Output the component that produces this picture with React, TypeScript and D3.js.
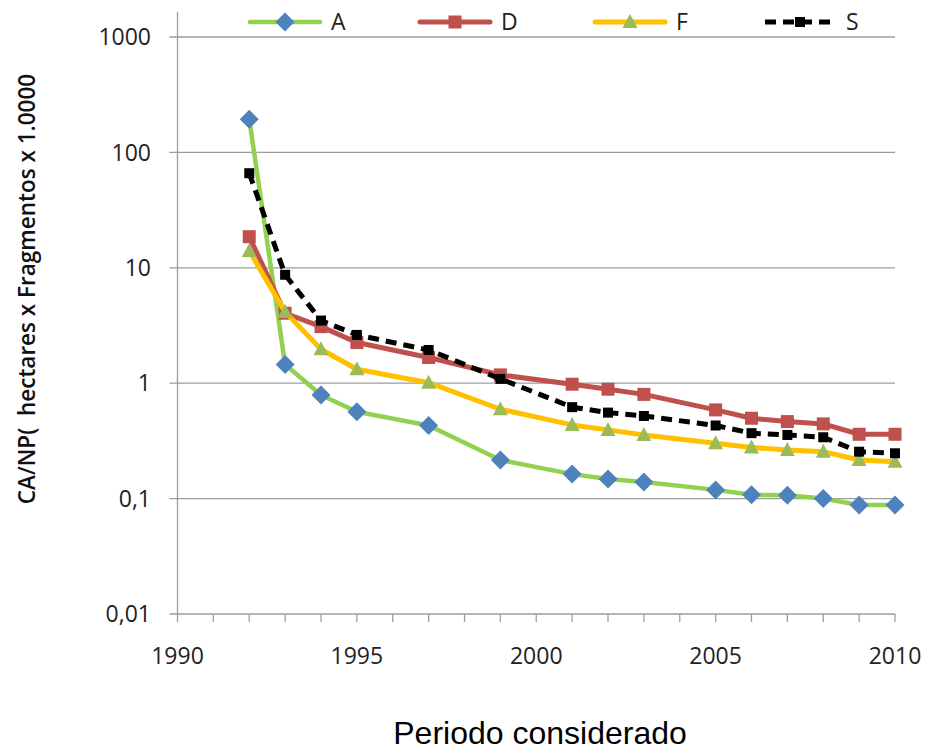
import React, { useEffect, useRef } from 'react';
import * as d3 from 'd3';

const years = [1992, 1993, 1994, 1995, 1997, 1999, 2001, 2002, 2003, 2005, 2006, 2007, 2008, 2009, 2010];

const seriesA = [194, 1.45, 0.79, 0.565, 0.43, 0.216, 0.163, 0.148, 0.139, 0.119, 0.108, 0.107, 0.1, 0.088, 0.088];
const seriesD = [18.6, 4.04, 3.09, 2.25, 1.67, 1.18, 0.98, 0.887, 0.8, 0.587, 0.497, 0.465, 0.444, 0.361, 0.361];
const seriesF = [14, 4.15, 1.97, 1.32, 1.01, 0.595, 0.435, 0.394, 0.356, 0.302, 0.277, 0.264, 0.255, 0.216, 0.209];
const seriesS = [66, 8.7, 3.49, 2.62, 1.94, 1.09, 0.62, 0.556, 0.52, 0.43, 0.369, 0.356, 0.34, 0.255, 0.247];

const yTicks = [0.01, 0.1, 1, 10, 100, 1000];
const yTickLabels = ['0,01', '0,1', '1', '10', '100', '1000'];
const xLabelYears = [1990, 1995, 2000, 2005, 2010];

const seriesNames = ['A', 'D', 'F', 'S'];

const App = () => {
  const svgRef = useRef<SVGSVGElement>(null);

  useEffect(() => {
    const svg = d3.select(svgRef.current);
    svg.selectAll('*').remove();

    const left = 177.5, right = 895, bottom = 614, top = 37;
    const x = d3.scaleLinear().domain([1990, 2010]).range([left, right]);
    const y = d3.scaleLog().domain([0.01, 1000]).range([bottom, top]);

    const grid = '#9d9d9d';
    const font = '"Open Sans", "Liberation Sans", sans-serif';

    // gridlines
    svg.append('g')
      .selectAll('line')
      .data(yTicks)
      .enter().append('line')
      .attr('x1', left - 8).attr('x2', right)
      .attr('y1', d => y(d)).attr('y2', d => y(d))
      .attr('stroke', grid).attr('stroke-width', 1.3);

    // y axis line
    svg.append('line')
      .attr('x1', left).attr('x2', left)
      .attr('y1', 12).attr('y2', bottom + 8)
      .attr('stroke', grid).attr('stroke-width', 1.3);

    // x ticks each year
    svg.append('g')
      .selectAll('line')
      .data(d3.range(1991, 2011))
      .enter().append('line')
      .attr('x1', d => x(d)).attr('x2', d => x(d))
      .attr('y1', bottom).attr('y2', bottom + 8)
      .attr('stroke', grid).attr('stroke-width', 1.3);

    svg.append('g')
      .selectAll('text')
      .data(yTicks)
      .enter().append('text')
      .attr('x', 151).attr('y', d => y(d))
      .attr('dy', '0.36em')
      .attr('text-anchor', 'end')
      .attr('font-family', font).attr('font-size', 23).attr('fill', '#222')
      .text((d, i) => yTickLabels[i]);

    svg.append('g')
      .selectAll('text')
      .data(xLabelYears)
      .enter().append('text')
      .attr('x', d => x(d)).attr('y', 664)
      .attr('text-anchor', 'middle')
      .attr('font-family', font).attr('font-size', 23).attr('fill', '#222')
      .text(d => d);

    // titles
    svg.append('text')
      .attr('x', 540).attr('y', 744)
      .attr('text-anchor', 'middle')
      .attr('font-family', '"Liberation Sans", Arial, sans-serif')
      .attr('font-size', 32).attr('fill', '#000')
      .text('Periodo considerado');

    svg.append('text')
      .attr('transform', 'translate(35,289) rotate(-90)')
      .attr('text-anchor', 'middle')
      .attr('font-family', font).attr('font-weight', 600)
      .attr('font-size', 22.5).attr('fill', '#111')
      .style('white-space', 'pre')
      .text('CA/NP(  hectares x Fragmentos x 1.0000');

    const cfg = [
      { values: seriesA, line: '#92D050', width: 4.5, dash: null, marker: 'diamond', fill: '#4F81BD' },
      { values: seriesD, line: '#C0504D', width: 5, dash: null, marker: 'square', fill: '#C0504D' },
      { values: seriesF, line: '#FFC000', width: 5, dash: null, marker: 'triangle', fill: '#9BBB59' },
      { values: seriesS, line: '#000000', width: 5, dash: '11 7', marker: 'smallsquare', fill: '#000000' },
    ];

    const drawMarker = (g, type, fill, cx, cy) => {
      if (type === 'diamond') {
        g.append('path').attr('d', `M${cx},${cy - 9.5}L${cx + 9.5},${cy}L${cx},${cy + 9.5}L${cx - 9.5},${cy}Z`).attr('fill', fill);
      } else if (type === 'square') {
        g.append('rect').attr('x', cx - 6.5).attr('y', cy - 6.5).attr('width', 13).attr('height', 13).attr('fill', fill);
      } else if (type === 'triangle') {
        g.append('path').attr('d', `M${cx},${cy - 8}L${cx + 7.5},${cy + 6}L${cx - 7.5},${cy + 6}Z`).attr('fill', fill);
      } else {
        g.append('rect').attr('x', cx - 5).attr('y', cy - 5).attr('width', 10).attr('height', 10).attr('fill', fill);
      }
    };

    const line = d3.line<number>().x((d, i) => x(years[i])).y(d => y(d));

    cfg.forEach(s => {
      const g = svg.append('g');
      g.append('path')
        .attr('d', line(s.values))
        .attr('fill', 'none')
        .attr('stroke', s.line)
        .attr('stroke-width', s.width)
        .attr('stroke-linejoin', 'round')
        .attr('stroke-linecap', s.dash ? 'butt' : 'round')
        .attr('stroke-dasharray', s.dash);
      s.values.forEach((v, i) => drawMarker(g, s.marker, s.fill, x(years[i]), y(v)));
    });

    // legend
    const legendX = [250, 420, 595, 765];
    const legend = svg.append('g');
    cfg.forEach((s, i) => {
      const lx = legendX[i];
      legend.append('line')
        .attr('x1', lx).attr('x2', lx + 70)
        .attr('y1', 22).attr('y2', 22)
        .attr('stroke', s.line).attr('stroke-width', s.width)
        .attr('stroke-linecap', s.dash ? 'butt' : 'round')
        .attr('stroke-dasharray', s.dash);
      drawMarker(legend, s.marker, s.fill, lx + 35, 22);
      legend.append('text')
        .attr('x', lx + 81).attr('y', 22).attr('dy', '0.36em')
        .attr('font-family', font).attr('font-size', 23).attr('fill', '#222')
        .text(seriesNames[i]);
    });
  }, []);

  return (
    <svg ref={svgRef} width={925} height={754}
      style={{ position: 'absolute', left: 0, top: 0, background: '#fff' }} />
  );
};

export default App;
